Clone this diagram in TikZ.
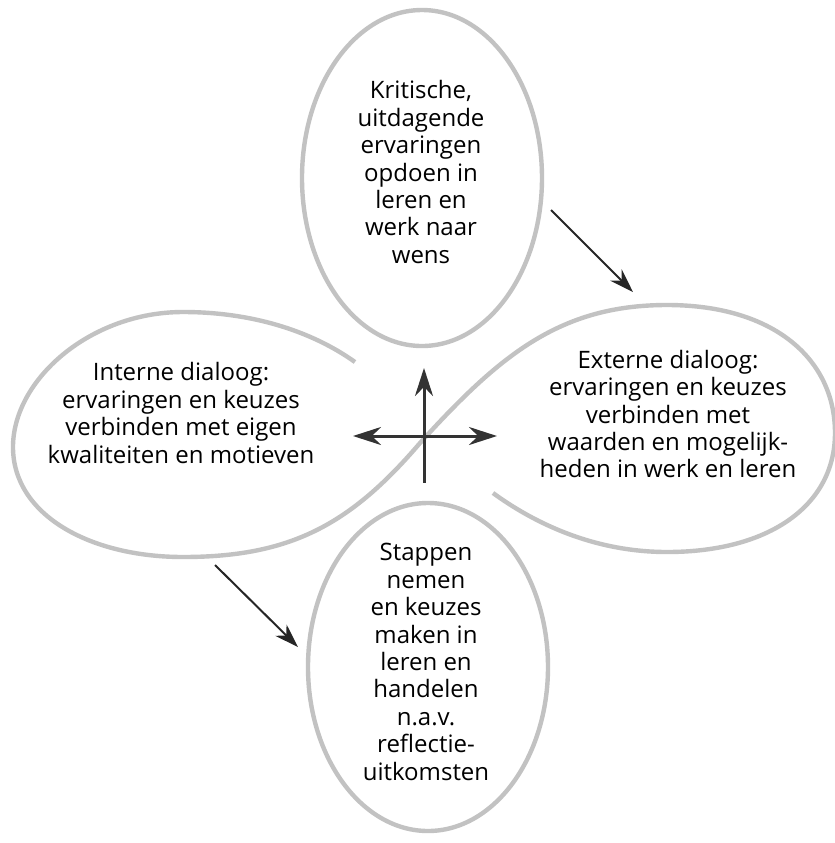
\documentclass[tikz,border=0pt]{standalone}
\usepackage{fontspec}
\setmainfont{Open Sans}
\usetikzlibrary{arrows.meta}

\tikzset{
	leaf/.style={draw=black!24, line width=2.2pt},
	txt/.style={align=center, font=\fontsize{12}{13.7}\selectfont, inner sep=0pt},
	pijl/.style={draw=black!85, line width=1pt, -{Stealth[length=12pt,width=8pt]}},
	kruis/.style={draw=black!80, line width=1.5pt},
	kruispijl/.style={kruis, -{Stealth[length=14pt,width=9pt]}}
}

\begin{document}
\begin{tikzpicture}[x=0.5pt,y=-0.5pt]
		\useasboundingbox (0,0) rectangle (835,843);
		% bovenste en onderste blad
		\draw[leaf] (422,178) ellipse (60pt and 84pt);
		\draw[leaf] (428,667) ellipse (60pt and 82pt);
		% linker en rechter blad in een lijn
		\draw[leaf] (355,362) .. controls (310,330) and (250,312) .. (183,312)
		.. controls (90,312) and (13,380) .. (13,447)
		.. controls (13,515) and (90,557) .. (183,557)
		.. controls (290,557) and (350,525) .. (420,443)
		.. controls (500,355) and (560,305) .. (667,305)
		.. controls (775,305) and (835,360) .. (835,433)
		.. controls (835,505) and (770,552) .. (667,552)
		.. controls (590,552) and (530,520) .. (493,493);
		% teksten
		\node[txt] (kritisch) at (421,172) {Kritische,\\uitdagende\\ervaringen\\opdoen in\\leren en\\werk naar\\wens};
		\node[txt] (intern) at (181,413) {Interne dialoog:\\ervaringen en keuzes\\verbinden met eigen\\kwaliteiten en motieven};
		\node[txt] (extern) at (668,414) {Externe dialoog:\\ervaringen en keuzes\\verbinden met\\waarden en mogelijk-\\heden in werk en leren};
		\node[txt] (stappen) at (426,662) {Stappen\\nemen\\en keuzes\\maken in\\leren en\\handelen\\n.a.v.\\reflectie-\\uitkomsten};
		% schuine pijlen
		\coordinate (p1a) at (551,210);
		\coordinate (p1b) at (633,292);
		\coordinate (p2a) at (215,565);
		\coordinate (p2b) at (298,647);
		\draw[pijl] (p1a) -- (p1b);
		\draw[pijl] (p2a) -- (p2b);
		% kruis in het midden
		\coordinate (mid) at (424,436);
		\coordinate (boven) at (424,368);
		\coordinate (onder) at (424,483);
		\coordinate (links) at (353,436);
		\coordinate (rechts) at (497,436);
		\draw[kruis] (mid) -- (onder);
		\draw[kruispijl] (mid) -- (boven);
		\draw[kruispijl] (mid) -- (links);
		\draw[kruispijl] (mid) -- (rechts);
\end{tikzpicture}
\end{document}
